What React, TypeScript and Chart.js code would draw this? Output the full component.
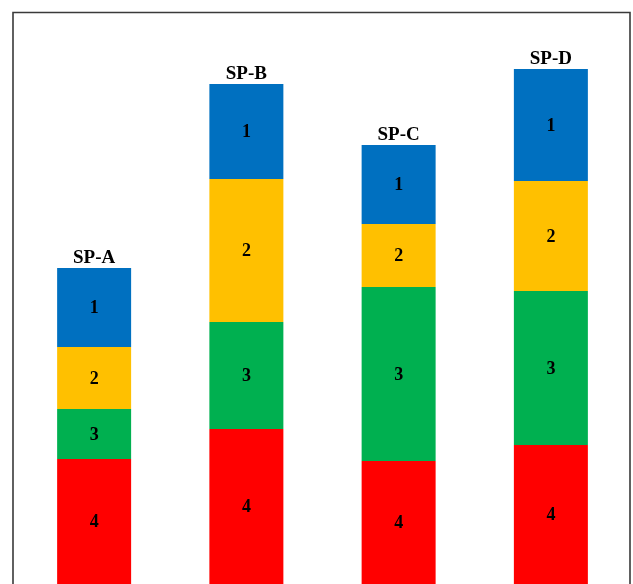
import { useEffect, useRef } from "react";
import { Chart, registerables } from "chart.js";

Chart.register(...registerables);

// Sample names along the x axis
const samples = ["SP-A", "SP-B", "SP-C", "SP-D"];

// Layer thicknesses, bottom layer first
const layer4 = [125, 155, 123, 139];
const layer3 = [50, 107, 174, 154];
const layer2 = [62, 143, 63, 110];
const layer1 = [79, 95, 79, 112];

const layerNames = ["4", "3", "2", "1"];
const layerColors = ["#FF0000", "#00B050", "#FFC000", "#0070C0"];

const SERIF = "'Liberation Serif', 'Times New Roman', serif";

// Thin frame on the left, top and right of the figure
const framePlugin = {
  id: "frame",
  beforeDraw(chart: any) {
    const ctx = chart.ctx;
    ctx.save();
    ctx.strokeStyle = "#3a3a3a";
    ctx.lineWidth = 1.6;
    ctx.beginPath();
    ctx.moveTo(13, chart.height);
    ctx.lineTo(13, 12.5);
    ctx.lineTo(630, 12.5);
    ctx.lineTo(630, chart.height);
    ctx.stroke();
    ctx.restore();
  },
};

// Layer number in the middle of each segment, sample name above each stack
const labelPlugin = {
  id: "stackLabels",
  afterDatasetsDraw(chart: any) {
    const ctx = chart.ctx;
    ctx.save();
    ctx.font = `bold 18px ${SERIF}`;
    ctx.fillStyle = "#000";
    ctx.textAlign = "center";
    ctx.textBaseline = "middle";
    chart.data.datasets.forEach((ds: any, di: number) => {
      const meta = chart.getDatasetMeta(di);
      meta.data.forEach((el: any) => {
        const { x, y, base } = el.getProps(["x", "y", "base"], true);
        ctx.fillText(ds.label, x, (y + base) / 2 + 1);
      });
    });
    const top = chart.getDatasetMeta(chart.data.datasets.length - 1);
    ctx.textBaseline = "alphabetic";
    ctx.font = `bold 19px ${SERIF}`;
    top.data.forEach((el: any, i: number) => {
      const { x, y } = el.getProps(["x", "y"], true);
      ctx.fillText(samples[i], x, y - 5);
    });
    ctx.restore();
  },
};

export default function App() {
  const canvasRef = useRef<HTMLCanvasElement | null>(null);

  useEffect(() => {
    document.body.style.margin = "0";
    const layers = [layer4, layer3, layer2, layer1];
    const chart = new Chart(canvasRef.current!, {
      type: "bar",
      data: {
        labels: samples,
        datasets: layers.map((values, i) => ({
          label: layerNames[i],
          data: values,
          backgroundColor: layerColors[i],
          borderWidth: 0,
          barPercentage: 0.486,
          categoryPercentage: 1,
        })),
      },
      options: {
        responsive: false,
        animation: false,
        layout: { padding: { left: 18, right: 6, top: 12, bottom: 0 } },
        plugins: {
          legend: { display: false },
          tooltip: { enabled: false },
        },
        scales: {
          x: { stacked: true, display: false },
          y: { stacked: true, display: false, min: 0, max: 572 },
        },
      },
      plugins: [framePlugin, labelPlugin],
    });
    return () => chart.destroy();
  }, []);

  return (
    <div style={{ width: 633, height: 584, background: "#fff" }}>
      <canvas ref={canvasRef} width={633} height={584} style={{ display: "block" }} />
    </div>
  );
}
